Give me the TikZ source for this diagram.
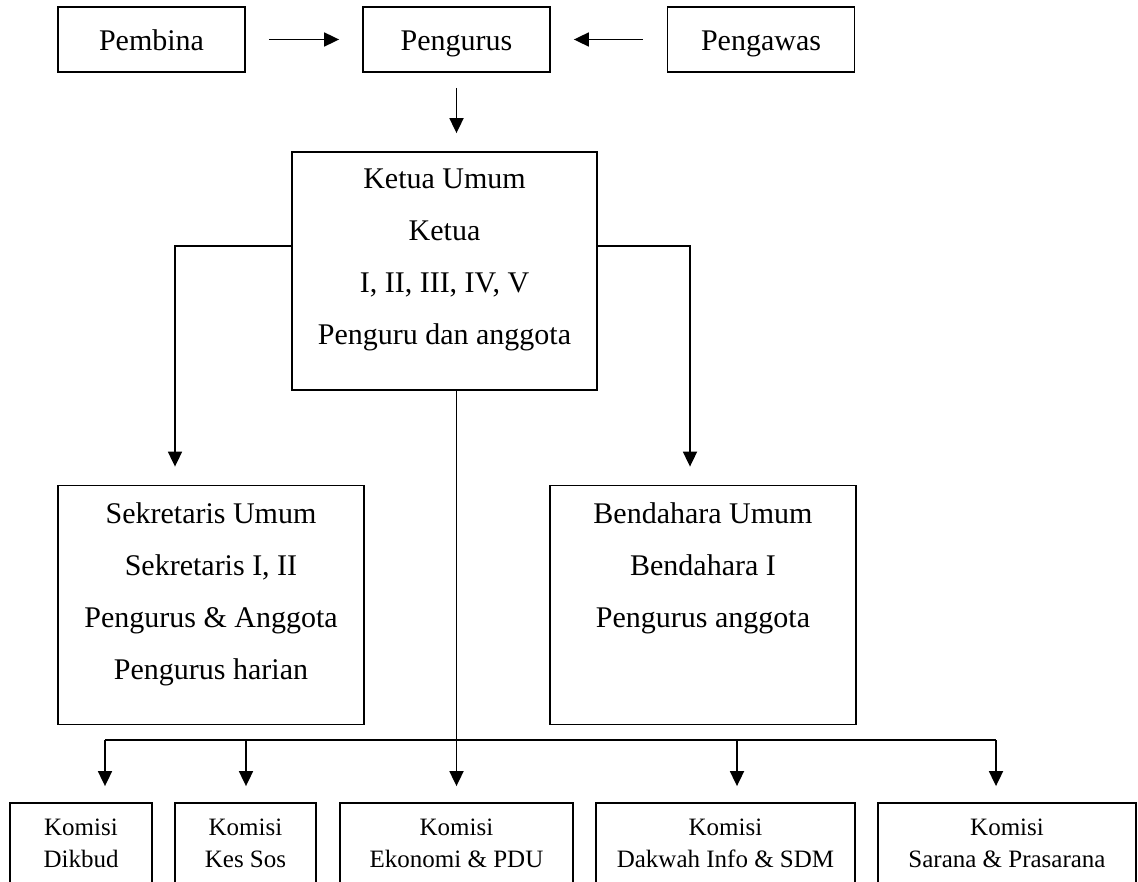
\documentclass[tikz,border=0pt]{standalone}
\usepackage{fontspec}
\setmainfont{Liberation Serif}
\usetikzlibrary{arrows.meta}
\tikzset{
  box/.style={draw, line width=1.8pt, rectangle, inner sep=0pt},
  txt/.style={inner sep=0pt, anchor=base, font=\fontsize{30}{36}\selectfont},
  stxt/.style={inner sep=0pt, anchor=base, font=\fontsize{25}{30}\selectfont},
  arr/.style={line width=1.8pt, -{Triangle[length=15pt,width=14pt]}},
  ln/.style={line width=1.8pt}
}
\begin{document}
\begin{tikzpicture}[x=1pt,y=-1pt]
\useasboundingbox (0,0) rectangle (1138,882);
\fill[white] (0,0) rectangle (1138,882);
\clip (0,0) rectangle (1138,882);

% top row
\node[box, minimum width=187pt, minimum height=65pt] (pembina) at (151.5,39.5) {};
\node[box, minimum width=187pt, minimum height=65pt] (pengurus) at (456.5,39.5) {};
\node[box, minimum width=187pt, minimum height=65pt] (pengawas) at (761,39.5) {};
\node[txt] (tpembina) at (151.5,51) {Pembina};
\node[txt] (tpengurus) at (456.5,51) {Pengurus};
\node[txt] (tpengawas) at (761,51) {Pengawas};

% ketua
\node[box, minimum width=305pt, minimum height=238pt] (ketua) at (444.5,271) {};
\node[txt] (k1) at (444.5,189) {Ketua Umum};
\node[txt] (k2) at (444.5,241) {Ketua};
\node[txt] (k3) at (444.5,293) {I, II, III, IV, V};
\node[txt] (k4) at (444.5,345) {Penguru dan anggota};

% sekretaris & bendahara
\node[box, minimum width=306pt, minimum height=239pt] (sek) at (211,605) {};
\node[txt] (s1) at (211,523) {Sekretaris Umum};
\node[txt] (s2) at (211,575) {Sekretaris I, II};
\node[txt] (s3) at (211,627) {Pengurus \& Anggota};
\node[txt] (s4) at (211,679) {Pengurus harian};

\node[box, minimum width=306pt, minimum height=239pt] (bend) at (703,605) {};
\node[txt] (b1) at (703,523) {Bendahara Umum};
\node[txt] (b2) at (703,575) {Bendahara I};
\node[txt] (b3) at (703,627) {Pengurus anggota};

% komisi boxes (cut off at the bottom)
\node[box, minimum width=142pt, minimum height=110pt] (kom1) at (81,858) {};
\node[box, minimum width=141pt, minimum height=110pt] (kom2) at (245.5,858) {};
\node[box, minimum width=233pt, minimum height=110pt] (kom3) at (456.5,858) {};
\node[box, minimum width=259pt, minimum height=110pt] (kom4) at (725.5,858) {};
\node[box, minimum width=258pt, minimum height=110pt] (kom5) at (1007,858) {};
\node[stxt] (c1a) at (81,835) {Komisi};
\node[stxt] (c1b) at (81,867) {Dikbud};
\node[stxt] (c2a) at (245.5,835) {Komisi};
\node[stxt] (c2b) at (245.5,867) {Kes Sos};
\node[stxt] (c3a) at (456.5,835) {Komisi};
\node[stxt] (c3b) at (456.5,867) {Ekonomi \& PDU};
\node[stxt] (c4a) at (725.5,835) {Komisi};
\node[stxt] (c4b) at (725.5,867) {Dakwah Info \& SDM};
\node[stxt] (c5a) at (1007,835) {Komisi};
\node[stxt] (c5b) at (1007,867) {Sarana \& Prasarana};

% connectors top
\draw[arr, shorten <=23pt, shorten >=23pt] (pembina.east) -- (pengurus.west);
\draw[arr, shorten <=24pt, shorten >=23pt] (pengawas.west) -- (pengurus.east);
\draw[arr, shorten <=15pt, shorten >=18pt] (pengurus.south) -- (pengurus.south |- ketua.north);

% ketua to sekretaris / bendahara
\draw[arr, shorten >=18pt] ([yshift=25pt]ketua.west) -| ([xshift=-36pt]sek.north);
\draw[arr, shorten >=18pt] ([yshift=25pt]ketua.east) -| ([xshift=-13pt]bend.north);

% central line and bus
\coordinate (busL) at (105,740);
\coordinate (busR) at (996,740);
\coordinate (bus2) at (246,740);
\coordinate (bus4) at (737,740);
\draw[arr, shorten >=16pt] (ketua.south -| kom3.north) -- (kom3.north);
\draw[ln] (busL) -- (busR);
\draw[arr, shorten >=16pt] (busL) -- (busL |- kom1.north);
\draw[arr, shorten >=16pt] (bus2) -- (bus2 |- kom2.north);
\draw[arr, shorten >=16pt] (bus4) -- (bus4 |- kom4.north);
\draw[arr, shorten >=16pt] (busR) -- (busR |- kom5.north);
\end{tikzpicture}
\end{document}
